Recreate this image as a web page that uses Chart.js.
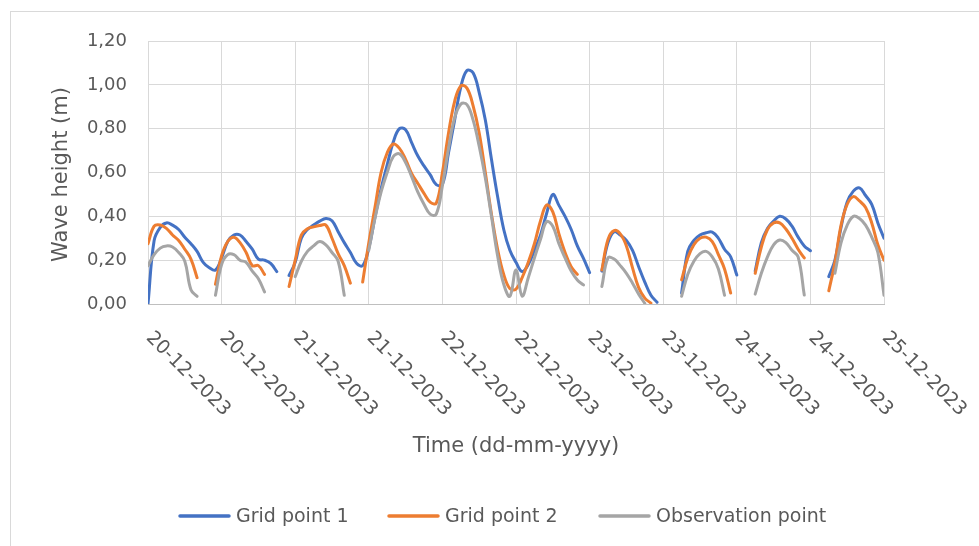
<!DOCTYPE html>
<html>
<head>
<meta charset="utf-8">
<script src="https://cdn.jsdelivr.net/npm/chart.js@4.4.0/dist/chart.umd.min.js"></script>
<style>
  html, body { margin: 0; padding: 0; background: #fff; }
  canvas { display: block; }
</style>
</head>
<body>
<canvas id="waves" width="979" height="546"></canvas>
<script>
// Hourly significant wave height (m), 20-12-2023 00:00 .. 25-12-2023 00:00.
// Index = hours since start; null = no record.
const gridPoint1 = [
  0.00, 0.29, 0.35, 0.37, 0.36, 0.34, 0.305, 0.275, 0.24, 0.19, 0.165, 0.155,
  0.21, 0.285, 0.315, 0.315, 0.285, 0.25, 0.205, 0.20, 0.185, 0.148, null, 0.13,
  0.19, 0.30, 0.34, 0.36, 0.378, 0.39, 0.38, 0.33, 0.28, 0.235, 0.186, 0.175,
  0.255, 0.395, 0.525, 0.635, 0.74, 0.80, 0.795, 0.735, 0.675, 0.63, 0.59, 0.545,
  0.545, 0.69, 0.84, 0.99, 1.065, 1.055, 0.965, 0.84, 0.66, 0.49, 0.34, 0.245,
  0.19, 0.148, 0.18, 0.245, 0.315, 0.414, 0.50, 0.45, 0.40, 0.34, 0.265, 0.208,
  0.143, null, 0.15, 0.28, 0.33, 0.315, 0.29, 0.245, 0.17, 0.10, 0.04, 0.008,
  null, null, null, 0.05, 0.24, 0.29, 0.315, 0.325, 0.328, 0.30, 0.25, 0.215,
  0.132, null, null, 0.15, 0.28, 0.345, 0.378, 0.40, 0.388, 0.355, 0.305, 0.265,
  0.243, null, null, 0.125, 0.20, 0.35, 0.465, 0.515, 0.53, 0.495, 0.455, 0.37,
  0.30
];
const gridPoint2 = [
  0.275, 0.355, 0.36, 0.345, 0.315, 0.29, 0.25, 0.205, 0.12, null, null, 0.09,
  0.22, 0.285, 0.305, 0.28, 0.235, 0.175, 0.175, 0.135, null, null, null, 0.08,
  0.20, 0.315, 0.343, 0.352, 0.358, 0.36, 0.30, 0.23, 0.175, 0.095, null, 0.10,
  0.28, 0.44, 0.60, 0.69, 0.73, 0.71, 0.66, 0.595, 0.55, 0.505, 0.465, 0.46,
  0.60, 0.78, 0.925, 0.995, 0.985, 0.905, 0.78, 0.60, 0.41, 0.25, 0.135, 0.07,
  0.068, 0.12, 0.19, 0.275, 0.38, 0.452, 0.42, 0.32, 0.235, 0.17, 0.135, null,
  null, null, 0.155, 0.295, 0.335, 0.32, 0.265, 0.165, 0.075, 0.027, 0.004, null,
  null, null, null, 0.11, 0.21, 0.27, 0.30, 0.305, 0.285, 0.225, 0.16, 0.05,
  null, null, null, 0.14, 0.26, 0.34, 0.37, 0.37, 0.342, 0.30, 0.25, 0.21,
  null, null, null, 0.06, 0.19, 0.36, 0.455, 0.49, 0.47, 0.44, 0.37, 0.27,
  0.20
];
const observationPoint = [
  0.175, 0.225, 0.255, 0.265, 0.26, 0.235, 0.195, 0.065, 0.035, null, null, 0.04,
  0.18, 0.225, 0.225, 0.20, 0.19, 0.15, 0.115, 0.055, null, null, null, null,
  0.125, 0.195, 0.24, 0.265, 0.285, 0.27, 0.235, 0.195, 0.04, null, null, null,
  0.245, 0.39, 0.51, 0.60, 0.673, 0.685, 0.645, 0.58, 0.51, 0.455, 0.41, 0.41,
  0.54, 0.71, 0.85, 0.912, 0.91, 0.84, 0.72, 0.575, 0.40, 0.22, 0.09, 0.035,
  0.155, 0.036, 0.12, 0.21, 0.295, 0.376, 0.355, 0.275, 0.21, 0.15, 0.11, 0.087,
  null, null, 0.08, 0.21, 0.205, 0.175, 0.14, 0.095, 0.045, 0.003, null, null,
  null, null, null, 0.035, 0.135, 0.195, 0.23, 0.24, 0.215, 0.16, 0.04, null,
  null, null, null, 0.045, 0.14, 0.215, 0.27, 0.292, 0.28, 0.245, 0.215, 0.041,
  null, null, null, null, 0.14, 0.28, 0.36, 0.40, 0.39, 0.36, 0.305, 0.235,
  0.04
];
// Date label for every 12-hour step on the time axis.
const dateLabels = [
  '20-12-2023', '20-12-2023', '21-12-2023', '21-12-2023', '22-12-2023', '22-12-2023',
  '23-12-2023', '23-12-2023', '24-12-2023', '24-12-2023', '25-12-2023'
];
const seriesNames = ['Grid point 1', 'Grid point 2', 'Observation point'];
const seriesColors = ['#4472C4', '#ED7D31', '#A5A5A5'];

const TEXT = '#595959';
const FONT = '"DejaVu Sans", sans-serif';

const toPoints = arr => arr.map((v, i) => ({ x: i, y: v }));

const decorations = {
  id: 'decorations',
  beforeDraw(chart) {
    const { ctx, width, height } = chart;
    ctx.save();
    ctx.fillStyle = '#fff';
    ctx.fillRect(0, 0, width, height);
    ctx.strokeStyle = '#D9D9D9';
    ctx.lineWidth = 1;
    ctx.strokeRect(10.5, 11.5, width + 20, height + 20);
    ctx.restore();
  },
  afterDraw(chart) {
    const { ctx, chartArea, scales } = chart;
    const xs = scales.x;
    ctx.save();
    ctx.fillStyle = TEXT;

    // rotated date labels under the time axis
    ctx.font = '19px ' + FONT;
    ctx.textAlign = 'left';
    ctx.textBaseline = 'middle';
    dateLabels.forEach((lab, i) => {
      const px = xs.getPixelForValue(i * 12);
      ctx.save();
      ctx.translate(px + 1, 335);
      ctx.rotate(Math.PI / 4);
      ctx.fillText(lab, 0, 0);
      ctx.restore();
    });

    // axis titles
    ctx.font = '21px ' + FONT;
    ctx.textAlign = 'center';
    ctx.save();
    ctx.translate(62, (chartArea.top + chartArea.bottom) / 2 + 2);
    ctx.rotate(-Math.PI / 2);
    ctx.fillText('Wave height (m)', 0, 0);
    ctx.restore();
    ctx.fillText('Time (dd-mm-yyyy)', (chartArea.left + chartArea.right) / 2, 447);

    // legend
    const lineStarts = [178, 387, 598];
    ctx.font = '19px ' + FONT;
    ctx.textAlign = 'left';
    seriesNames.forEach((name, i) => {
      const x0 = lineStarts[i];
      ctx.strokeStyle = seriesColors[i];
      ctx.lineWidth = 3.5;
      ctx.lineCap = 'round';
      ctx.beginPath();
      ctx.moveTo(x0 + 2, 516);
      ctx.lineTo(x0 + 51, 516);
      ctx.stroke();
      ctx.fillStyle = TEXT;
      ctx.fillText(name, x0 + 58, 517);
    });
    ctx.restore();
  }
};

new Chart(document.getElementById('waves'), {
  type: 'line',
  data: {
    datasets: [
      { label: seriesNames[0], data: toPoints(gridPoint1), borderColor: seriesColors[0], order: 3 },
      { label: seriesNames[1], data: toPoints(gridPoint2), borderColor: seriesColors[1], order: 2 },
      { label: seriesNames[2], data: toPoints(observationPoint), borderColor: seriesColors[2], order: 1 }
    ]
  },
  options: {
    responsive: false,
    animation: false,
    devicePixelRatio: 1,
    spanGaps: false,
    elements: {
      line: { borderWidth: 3, tension: 0.4, fill: false, borderCapStyle: 'round', borderJoinStyle: 'round' },
      point: { radius: 0, hoverRadius: 0 }
    },
    layout: { padding: { left: 0, top: 41, right: 95, bottom: 0 } },
    plugins: { legend: { display: false }, tooltip: { enabled: false } },
    scales: {
      x: {
        type: 'linear', min: 0, max: 120,
        ticks: { stepSize: 12, display: false },
        grid: { color: '#D9D9D9', lineWidth: 1, drawTicks: false },
        border: { color: '#BFBFBF', width: 1 },
        afterFit(s) { s.height = 242; }
      },
      y: {
        min: 0, max: 1.2,
        ticks: {
          stepSize: 0.2, padding: 21, color: TEXT,
          font: { family: 'DejaVu Sans', size: 18 },
          callback: v => Number(v).toFixed(2).replace('.', ',')
        },
        grid: { color: '#D9D9D9', lineWidth: 1, drawTicks: false },
        border: { display: false },
        afterFit(s) { s.width = 148; }
      }
    }
  },
  plugins: [decorations]
});
</script>
</body>
</html>
